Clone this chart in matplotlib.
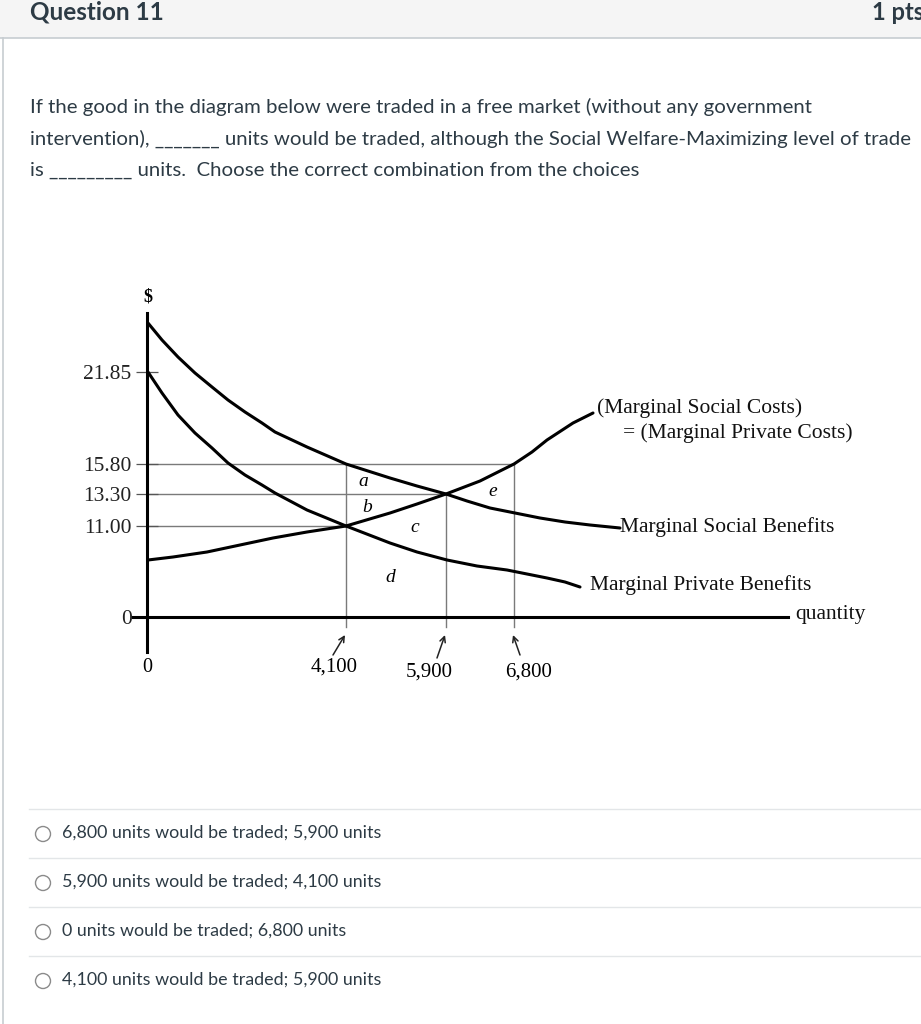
import matplotlib.pyplot as plt
from matplotlib.patches import Circle, Rectangle

# ---- page text ----
title = "Question 11"
points = "1 pts"
question_lines = [
    "If the good in the diagram below were traded in a free market (without any government",
    "intervention), _______ units would be traded, although the Social Welfare-Maximizing level of trade",
    "is _________ units.  Choose the correct combination from the choices",
]
choices = [
    "6,800 units would be traded; 5,900 units",
    "5,900 units would be traded; 4,100 units",
    "0 units would be traded; 6,800 units",
    "4,100 units would be traded; 5,900 units",
]

# ---- diagram (schematic, not drawn to scale) ----
price_labels = ["0", "11.00", "13.30", "15.80", "21.85"]
price_pos = [0, 91, 123, 153, 245]
qty_labels = ["4,100", "5,900", "6,800"]
qty_pos = [199, 299, 367]

# curves
msb_x = [1, 15, 31, 48, 65, 81, 98, 115, 128, 160, 199, 243, 270, 299, 320, 343, 368, 393, 418, 443, 473]
msb_y = [294, 277, 260, 244, 230, 217, 205, 194, 185, 170, 153, 139, 131, 123, 116, 109, 104, 99, 95, 92, 89]
mpb_x = [1, 15, 31, 48, 65, 81, 98, 115, 128, 160, 199, 243, 270, 300, 330, 360, 380, 400, 418, 433]
mpb_y = [245, 224, 202, 184, 169, 154, 142, 132, 124, 107, 91, 74, 65, 57, 51, 47, 43, 39, 35, 30]
msc_x = [1, 26, 60, 93, 126, 160, 199, 243, 270, 299, 333, 367, 385, 400, 426, 446]
msc_y = [57, 60, 65, 72, 79, 85, 91, 104, 113, 123, 136, 153, 165, 177, 194, 204]

area_labels = ["a", "b", "c", "d", "e"]
area_x = [216, 220, 268, 243, 346]
area_y = [135, 109, 90, 40, 125]

TXT = "#2d3b45"
SERIF = "Liberation Serif"

fig = plt.figure(figsize=(9.21, 10.24), dpi=100)

# page layer in pixel units
page = fig.add_axes([0, 0, 1, 1])
page.set_xlim(0, 921)
page.set_ylim(1024, 0)
page.axis("off")

page.add_patch(Rectangle((0, 0), 921, 38, facecolor="#f5f5f5", edgecolor="none"))
page.plot([0, 921], [38, 38], color="#c7cdd1", lw=1.2)
page.plot([2.5, 2.5], [38, 1024], color="#c7cdd1", lw=1.2)
page.text(30, 12, title, family="Lato", weight="bold", fontsize=17.5, color=TXT, va="center")
page.text(872, 12, points, family="Lato", weight="bold", fontsize=17, color=TXT, va="center")

for i, line in enumerate(question_lines):
    page.text(30, 107 + i * 31.5, line, family="Lato", fontsize=14.7, color=TXT, va="center")

for i, c in enumerate(choices):
    y0 = 809 + i * 49
    page.plot([29, 921], [y0, y0], color="#e3e6e8", lw=1)
    page.add_patch(Circle((43, y0 + 25), 7.5, fill=False, ec="#8b8b8b", lw=1))
    page.text(62, y0 + 24, c, family="Lato", fontsize=12.9, color=TXT, va="center")

# diagram axes, 1 data unit = 1 pixel, origin at the axis corner
ax = fig.add_axes([67 / 921, 317 / 1024, 840 / 921, 420 / 1024])
ax.set_xlim(-80, 760)
ax.set_ylim(-90, 330)
ax.patch.set_visible(False)
for s in ["top", "right"]:
    ax.spines[s].set_visible(False)
ax.spines["left"].set_position(("data", 0))
ax.spines["bottom"].set_position(("data", 0))
ax.spines["left"].set_bounds(-35, 304)
ax.spines["bottom"].set_bounds(-14, 641)
ax.spines["left"].set_linewidth(2.2)
ax.spines["bottom"].set_linewidth(2.2)
ax.set_xticks([])
ax.set_yticks(price_pos)
ax.set_yticklabels(price_labels, family=SERIF, fontsize=15.5, color="#222222")
ax.tick_params(axis="y", direction="inout", length=16, width=0.9, color="#555555", pad=3)

# guide lines
for p, q in zip(price_pos[1:4], qty_pos):
    ax.plot([0, q], [p, p], color="#7a7a7a", lw=1.0, zorder=1)
for q, top in zip(qty_pos, [price_pos[3], price_pos[2], price_pos[3]]):
    ax.plot([q, q], [-10, top], color="#7a7a7a", lw=1.0, zorder=1)

# curves
kw = dict(color="black", lw=2.2, solid_joinstyle="round", solid_capstyle="round", zorder=3)
ax.plot(msb_x, msb_y, **kw)
ax.plot(mpb_x, mpb_y, **kw)
ax.plot(msc_x, msc_y, **kw)

for lab, x, y in zip(area_labels, area_x, area_y):
    ax.text(x, y, lab, family=SERIF, style="italic", fontsize=14, ha="center", va="center")

tf = dict(family=SERIF, fontsize=15.5, color="#111111", va="center")
ax.text(450, 209, "(Marginal Social Costs)", **tf)
ax.text(476, 184, "= (Marginal Private Costs)", **tf)
ax.text(473, 90, "Marginal Social Benefits", **tf)
ax.text(443, 32, "Marginal Private Benefits", **tf)
ax.text(648, 2, "quantity", **tf)
ax.text(1, 320, "$", family=SERIF, weight="bold", fontsize=13, ha="center", va="center")
ax.text(0, -50, "0", family=SERIF, fontsize=14.5, ha="center", va="center")

# quantity labels with arrows
tails = [(186, -38), (290, -41), (373, -38)]
lab_y = [-50, -55, -55]
lab_dx = [-12, -17, 15]
for q, lab, (tx, ty), ly, dx in zip(qty_pos, qty_labels, tails, lab_y, lab_dx):
    ax.annotate("", xy=(q - 1, -18), xytext=(tx, ty),
                arrowprops=dict(arrowstyle="->", lw=1.1, color="#222222", shrinkA=0, shrinkB=0))
    ax.text(q + dx, ly, lab, family=SERIF, fontsize=15, ha="center", va="center")

fig.savefig("out.png", dpi=100)
